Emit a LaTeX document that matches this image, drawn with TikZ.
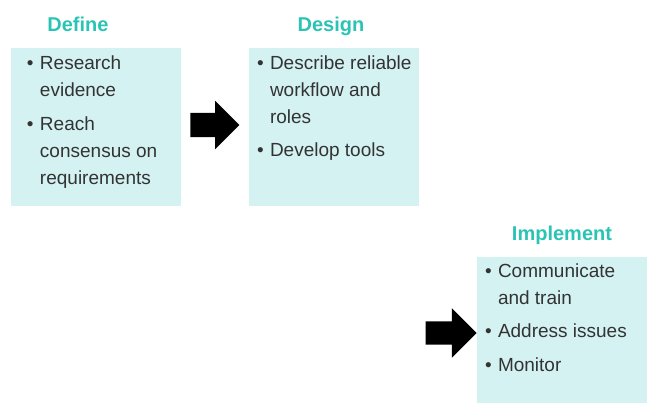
\documentclass[tikz,border=0pt]{standalone}
\usepackage{fontspec}
\setmainfont{Liberation Sans}
\usetikzlibrary{shapes,arrows,positioning}

\definecolor{stepteal}{HTML}{2BC4B4}
\definecolor{stepfill}{HTML}{D4F2F2}
\definecolor{steptext}{HTML}{333333}
\newcommand{\bul}{\makebox[13pt][l]{\textbullet}}

\begin{document}
\begin{tikzpicture}[
    x=1pt, y=1pt,
    node distance=16pt,
    phase/.style={rectangle, fill=stepfill, minimum width=170pt, minimum height=158pt, inner sep=0pt},
    title/.style={font=\fontsize{20}{24}\selectfont\bfseries, text=stepteal, inner sep=0pt},
    items/.style={anchor=north west, inner sep=0pt, text=steptext, font=\fontsize{19}{27}\selectfont},
    bigarrow/.style={single arrow, fill=black, inner xsep=0pt, inner ysep=12pt, minimum height=49pt, single arrow head extend=12pt, single arrow head indent=0pt}
]
    \useasboundingbox (0,0) rectangle (647,403);

    % Phases
    \node[phase] (define) at (96,276) {};
    \node[phase] (design) at (334,276) {};
    \node[phase, minimum height=146pt] (implement) at (562,73) {};

    % Titles
    \node[title, above=of define.north, anchor=base, xshift=-18pt] (definetitle) {Define};
    \node[title, above=of design.north, anchor=base, xshift=-3pt] (designtitle) {Design};
    \node[title, above=of implement.north, anchor=base] (implementtitle) {Implement};

    % Items
    \node[items] (defineitems) at ([xshift=16pt, yshift=-3pt]define.north west)
        {\begin{tabular}{@{}l@{}l@{}}
            \bul & Research\\ & evidence\\[7pt]
            \bul & Reach\\ & consensus on\\ & requirements
        \end{tabular}};
    \node[items] (designitems) at ([xshift=8pt, yshift=-3pt]design.north west)
        {\begin{tabular}{@{}l@{}l@{}}
            \bul & Describe reliable\\ & workflow and\\ & roles\\[6pt]
            \bul & Develop tools
        \end{tabular}};
    \node[items] (implementitems) at ([xshift=8pt, yshift=-2pt]implement.north west)
        {\begin{tabular}{@{}l@{}l@{}}
            \bul & Communicate\\ & and train\\[6pt]
            \bul & Address issues\\[7pt]
            \bul & Monitor
        \end{tabular}};

    % Arrows
    \node[bigarrow, right=9pt of define, yshift=2pt] (arrowa) {};
    \node[bigarrow, inner ysep=11.5pt, minimum height=51pt, single arrow head extend=13pt, left=0pt of implement, yshift=-3pt] (arrowb) {};
\end{tikzpicture}
\end{document}
